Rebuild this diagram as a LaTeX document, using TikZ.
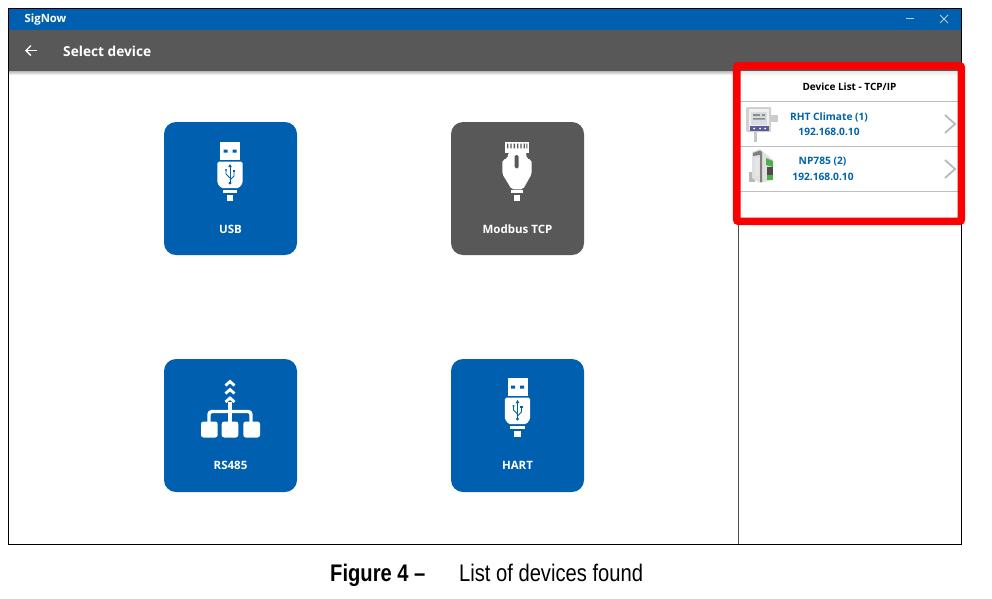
\documentclass[tikz,border=0pt]{standalone}
\usepackage{fontspec}
\usetikzlibrary{arrows.meta}
\setmainfont{Open Sans}
\newfontfamily\capfont[FakeStretch=0.84]{Liberation Sans}
\definecolor{appblue}{RGB}{0,96,175}
\definecolor{appgray}{RGB}{88,88,88}
\definecolor{listblue}{RGB}{0,98,170}
\definecolor{sepgray}{RGB}{190,190,190}
\definecolor{chevgray}{RGB}{185,185,185}
\definecolor{boxred}{RGB}{250,0,0}
\tikzset{
 tile/.style={rounded corners=12pt,minimum width=133pt,minimum height=133pt,inner sep=0pt,fill=#1},
 tilelabel/.style={font=\bfseries\fontsize{11.5}{13}\selectfont,text=white,inner sep=0pt},
 listtext/.style={font=\bfseries\fontsize{10.2}{12}\selectfont,text=listblue,inner sep=0pt},
 sepline/.style={draw=sepgray,line width=1pt},
 chevron/.style={draw=chevgray,line width=1.8pt},
}
\newcommand{\usbicon}[2]{%
 \begin{scope}[shift={(#1,#2)}]
  \fill[white] (-10,0) rectangle (10,18);
  \fill[appblue] (-6.5,7.5) rectangle (-2.5,10.5) (2.5,7.5) rectangle (6.5,10.5);
  \fill[white,rounded corners=1.5pt] (-12.7,19.7) -- (12.7,19.7) -- (12.7,41) -- (9,46) -- (-9,46) -- (-12.7,41) -- cycle;
  \fill[white] (-7.3,47.5) rectangle (7.3,50.7);
  \fill[white] (-3.3,53) rectangle (3.3,58.7);
  \draw[appblue,line width=1pt] (0,23) -- (0,41);
  \draw[appblue,line width=.9pt] (0,36) -- (-4,32) -- (-4,29) (0,38) -- (4,34) -- (4,29);
  \fill[appblue] (0,22) -- (-1.8,25) -- (1.8,25) -- cycle;
  \fill[appblue] (0,41) circle (1.7);
  \fill[appblue] (-4,28) circle (1.2);
  \fill[appblue] (2.8,27.5) rectangle (5.2,30);
 \end{scope}}
\begin{document}
\begin{tikzpicture}[x=1pt,y=-1pt]
\useasboundingbox (0,0) rectangle (992,598);
\fill[white] (0,0) rectangle (992,598);
% window
\fill[appblue] (8.7,8) rectangle (961,30);
\fill[appgray] (8.7,30) rectangle (961,71);
\shade[top color=black!28,bottom color=white] (8.7,71) rectangle (961,75);
\draw[black,line width=1pt] (8.7,8) rectangle (961,544);
\draw[black!70,line width=.8pt] (738.7,71) -- (738.7,544);
\node[anchor=west,inner sep=0pt,text=white,font=\bfseries\fontsize{11.3}{13}\selectfont] (title) at (24.5,19.5) {SigNow};
\draw[white!70!appblue,line width=1pt] (906,18.5) -- (914,18.5);
\draw[white!70!appblue,line width=1pt] (940,15) -- (948,23) (948,15) -- (940,23);
\draw[white,line width=1.4pt,-{Straight Barb[length=5pt,width=10pt]}] (37,50.5) -- (25,50.5);
\node[anchor=west,inner sep=0pt,text=white,font=\bfseries\fontsize{13.7}{16}\selectfont] (page) at (63,51) {Select device};
% tiles
\node[tile=appblue] (usb) at (230.5,188.5) {};
\node[tile=appgray] (modbus) at (517.5,188.5) {};
\node[tile=appblue] (rs) at (230.5,425.5) {};
\node[tile=appblue] (hart) at (517.5,425.5) {};
\node[tilelabel] (usbl) at (230.5,229) {USB};
\node[tilelabel] (modl) at (517.5,229) {Modbus TCP};
\node[tilelabel] (rsl) at (230.5,465.5) {RS485};
\node[tilelabel] (hartl) at (517.5,465.5) {HART};
\usbicon{230}{142}
\usbicon{517.5}{378}
% ethernet icon
\begin{scope}[shift={(439,110)},x=.3333pt,y=-.3333pt]
 \fill[white] (198,95) rectangle (270,128);
 \fill[appgray] (204,101) rectangle (208,115) (214,101) rectangle (218,115) (224,101) rectangle (228,115) (234,101) rectangle (238,115) (244,101) rectangle (248,115) (254,101) rectangle (258,115) (262,101) rectangle (265,115);
 \fill[white,rounded corners=2pt] (208,126) -- (262,126) -- (262,145) -- (278,150) -- (278,192) -- (252,238) -- (218,238) -- (190,192) -- (190,150) -- (206,145) -- cycle;
 \fill[appgray,rounded corners=1.5pt] (227,135) rectangle (239,175);
 \fill[white] (215,241) rectangle (253,250);
 \fill[white] (225,255) rectangle (243,272);
\end{scope}
% rs485 icon
\begin{scope}[line cap=butt]
 \foreach \yy in {383,391,399.5}{
  \draw[white,line width=2.8pt] (225.5,\yy+2.5) -- (230,\yy-1.5) -- (234.5,\yy+2.5);}
 \draw[white,line width=3.4pt,line join=round] (230,402) -- (230,423);
 \draw[white,line width=3.4pt,rounded corners=3pt] (209,423) -- (209,411.5) -- (251,411.5) -- (251,423);
 \fill[white,rounded corners=2.5pt] (201,421.5) rectangle (217.7,437.5);
 \fill[white,rounded corners=2.5pt] (221.7,421.5) rectangle (238.3,437.5);
 \fill[white,rounded corners=2.5pt] (243.3,421.5) rectangle (260,437.5);
\end{scope}
% side list
\shade[top color=black!10,bottom color=white] (740,71) rectangle (958,76);
\node[inner sep=0pt,text=black,font=\bfseries\fontsize{10}{12}\selectfont] (hdr) at (849.5,86.3) {Device List - TCP/IP};
\draw[sepline] (740,101.5) -- (958,101.5);
\draw[sepline] (740,146.5) -- (958,146.5);
\draw[sepline] (740,191.5) -- (958,191.5);
\node[listtext] (d1a) at (829,117) {RHT Climate (1)};
\node[listtext] (d1b) at (829,131.5) {192.168.0.10};
\node[listtext] (d2a) at (822.5,162) {NP785 (2)};
\node[listtext] (d2b) at (823,177) {192.168.0.10};
\draw[chevron] (945,115) -- (955,124) -- (945,133);
\draw[chevron] (945,160) -- (955,169) -- (945,178);
% device 1 picture
\fill[black!20] (770,115) rectangle (778,122);
\fill[black!18,rounded corners=1pt] (746,107) rectangle (771,132);
\fill[black!6] (749,109) rectangle (769,130);
\fill[cyan!25!black!18] (751,112) rectangle (767,125);
\fill[black!45] (753,114) rectangle (760,116) (753,118) rectangle (765,119.5) (762,114) rectangle (765,116);
\fill[blue!40!black!65] (750,126) rectangle (769,131);
\fill[white] (754,128.5) circle (1) (760,128.5) circle (1) (765,128.5) circle (1);
\fill[black!22] (754,132) rectangle (757,142);
% device 2 picture
\fill[black!28] (749,172) rectangle (755,182);
\fill[black!12] (752,152) -- (760,149) -- (773,160) -- (773,180) -- (760,183) -- (752,178) -- cycle;
\fill[black!50] (753,153) -- (760,150.5) -- (762,152) -- (762,182) -- (760,182) -- (760,155) -- (753,156) -- cycle;
\fill[white!90!black] (755,158) rectangle (759,176);
\fill[green!55!black!70] (766,158) -- (773,161) -- (773,167) -- (766,165) -- cycle;
\fill[black!70] (767,167) rectangle (773,175);
\fill[green!55!black!70] (767,175) rectangle (773,180);
% red highlight
\draw[boxred,line width=7.6pt,rounded corners=2pt] (736.7,65.8) rectangle (961.3,221.3);
% caption
\node[anchor=base west,inner sep=0pt,font=\capfont\bfseries\fontsize{24}{28}\selectfont] (figno) at (330,581.5) {Figure 4 –};
\node[anchor=base west,inner sep=0pt,font=\capfont\fontsize{24}{28}\selectfont] (figcap) at (459,581.5) {List of devices found};
\end{tikzpicture}
\end{document}
